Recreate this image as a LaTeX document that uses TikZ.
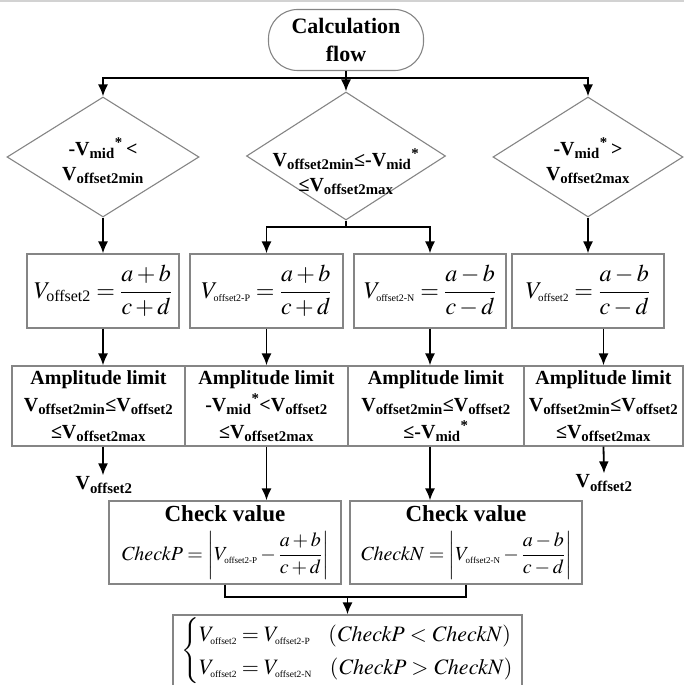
\documentclass[tikz,border=0pt]{standalone}
\usepackage{amsmath}
\usepackage{mathptmx}
\usepackage{fontspec}
\setmainfont{Liberation Serif}
\usetikzlibrary{arrows.meta}
\usetikzlibrary{shapes.geometric}
\definecolor{edgegray}{HTML}{858585}
\newcommand{\Vsub}[1]{V\textsubscript{#1}}
\newcommand{\Vm}[2][10]{V_{\text{\fontsize{#1}{#1}\selectfont #2}}}
\tikzset{
  outline/.style={draw=edgegray, line width=1.1pt},
  terminal/.style={outline, rounded corners=29pt, minimum width=155pt, minimum height=61pt, inner sep=0pt, align=center, font=\fontsize{22}{28}\selectfont\bfseries},
  decision/.style={outline, diamond, inner sep=0pt},
  formula/.style={outline, minimum width=152pt, minimum height=74pt, inner sep=0pt, font=\fontsize{24}{28}\selectfont},
  limit/.style={outline, minimum height=80pt, inner sep=0pt, align=center, font=\fontsize{20}{27}\selectfont\bfseries},
  check/.style={outline, minimum width=232pt, minimum height=83pt, inner sep=0pt, align=center},
  value/.style={inner sep=1pt, font=\fontsize{20}{24}\selectfont\bfseries},
  wire/.style={line width=1.8pt},
  flow/.style={wire, -{Latex[length=12pt,width=10pt]}},
  every label/.style={align=center, font=\fontsize{20}{25}\selectfont\bfseries}
}
\begin{document}
\begin{tikzpicture}[x=1pt,y=-1pt]
    \useasboundingbox (0,0) rectangle (684,685);
    \draw[gray!35, line width=2pt] (0,1) -- (684,1);

    \node[terminal] (start) at (346,40) {Calculation\\flow};

    \node[decision, minimum width=192pt, minimum height=120pt,
      label={[yshift=-4pt]center:{-\Vsub{mid}\textsuperscript{*}\,<\\\Vsub{offset2min}}}] (dl) at (103,157) {};
    \node[decision, minimum width=199pt, minimum height=128pt,
      label={[yshift=-16pt]center:{\Vsub{offset2min}≤-\Vsub{mid}\textsuperscript{*}\\≤\Vsub{offset2max}}}] (dm) at (346,156) {};
    \node[decision, minimum width=190pt, minimum height=120pt,
      label={[yshift=-4pt]center:{-\Vsub{mid}\textsuperscript{*}\,>\\\Vsub{offset2max}}}] (dr) at (588,157) {};

    \node[formula] (fl) at (103,291) {$\Vm[16]{offset2}=\dfrac{a+b}{c+d}$};
    \node[formula, minimum width=153pt] (fp) at (266.5,291) {$\Vm{offset2-P}=\dfrac{a+b}{c+d}$};
    \node[formula] (fn) at (430,291) {$\Vm{offset2-N}=\dfrac{a-b}{c-d}$};
    \node[formula] (fr) at (588,291) {$\Vm[11]{offset2}=\dfrac{a-b}{c-d}$};

    \node[limit, minimum width=173pt] (al) at (98.5,406)
      {Amplitude limit\\\Vsub{offset2min}≤\Vsub{offset2}\\≤\Vsub{offset2max}};
    \node[limit, minimum width=163pt] (ap) at (266.5,406)
      {Amplitude limit\\-\Vsub{mid}\textsuperscript{*}<\Vsub{offset2}\\≤\Vsub{offset2max}};
    \node[limit, minimum width=176pt] (an) at (436,406)
      {Amplitude limit\\\Vsub{offset2min}≤\Vsub{offset2}\\≤-\Vsub{mid}\textsuperscript{*}};
    \node[limit, minimum width=159pt] (ar) at (603.5,406)
      {Amplitude limit\\\Vsub{offset2min}≤\Vsub{offset2}\\≤\Vsub{offset2max}};

    \node[value] (ol) at (104,485) {\Vsub{offset2}};
    \node[value] (or) at (604,483) {\Vsub{offset2}};

    \node[check] (cp) at (225,542.5)
      {{\fontsize{23}{26}\selectfont\bfseries Check value}\\[8pt]
       {\fontsize{20}{24}\selectfont$\mathit{CheckP}=\left|\Vm[9]{offset2-P}-\dfrac{a+b}{c+d}\right|$}};
    \node[check] (cn) at (466,542.5)
      {{\fontsize{23}{26}\selectfont\bfseries Check value}\\[8pt]
       {\fontsize{20}{24}\selectfont$\mathit{CheckN}=\left|\Vm[9]{offset2-N}-\dfrac{a-b}{c-d}\right|$}};

    \node[outline, minimum width=349pt, minimum height=72pt, inner sep=0pt,
      font=\fontsize{22}{33}\selectfont] (res) at (347.5,651)
      {$\left\{\begin{array}{@{}l@{}}
        \Vm[9.5]{offset2}=\Vm[9.5]{offset2-P}\hspace{18pt}(\mathit{CheckP}<\mathit{CheckN})\\
        \Vm[9.5]{offset2}=\Vm[9.5]{offset2-N}\hspace{18pt}(\mathit{CheckP}>\mathit{CheckN})
       \end{array}\right.$};

    \coordinate (bus) at (346,78);
    \coordinate (split) at (346,227);
    \coordinate (merge) at (347.5,597);

    \draw[flow] (start.south) -- (dm.north);
    \draw[flow] (bus) -| (dl.north);
    \draw[flow] (bus) -| (dr.north);
    \draw[wire] (dm.south) -- (split);
    \draw[flow] (split) -| (fp.north);
    \draw[flow] (split) -| (fn.north);
    \draw[flow] (dl.south) -- (fl.north);
    \draw[flow] (dr.south) -- (fr.north);

    \draw[flow] (fl.south) -- (fl.south |- al.north);
    \draw[flow] (fp.south) -- (ap.north);
    \draw[flow] (fn.south) -- (fn.south |- an.north);
    \draw[flow] (ar.north |- fr.south) -- (ar.north);

    \draw[flow] (fl.south |- al.south) -- (fl.south |- ol.north);
    \draw[flow] (ar.south) -- (or.north);
    \draw[flow] (ap.south) -- (ap.south |- cp.north);
    \draw[flow] (fn.south |- an.south) -- (fn.south |- cn.north);

    \draw[wire] (cp.south) |- (merge);
    \draw[wire] (cn.south) |- (merge);
    \draw[flow] (merge) -- (res.north);
\end{tikzpicture}
\end{document}
